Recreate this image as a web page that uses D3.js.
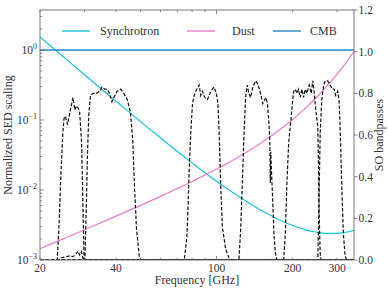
<!DOCTYPE html>
<html>
<head>
<meta charset="utf-8">
<script src="https://cdn.jsdelivr.net/npm/d3@7"></script>
<style>
  body { margin: 0; background: #fff; }
  text { font-family: "Liberation Serif", "DejaVu Serif", serif; fill: #333; }
</style>
</head>
<body>
<div id="chart"></div>
<script>
// SED curves
const sedFreq = [20, 25, 30, 40, 50, 60, 80, 100, 125, 150, 175, 200, 225, 250, 275, 300, 325, 350];
const synchrotron = [1.536, 0.774, 0.443, 0.185, 0.0948, 0.0554, 0.0244, 0.0133, 0.00766, 0.00512, 0.00383, 0.00311, 0.00270, 0.00249, 0.00240, 0.00240, 0.00249, 0.00265];
const dust = [0.00145, 0.00204, 0.00270, 0.00423, 0.00603, 0.00811, 0.0132, 0.0199, 0.0312, 0.0470, 0.0695, 0.1017, 0.148, 0.215, 0.312, 0.452, 0.657, 0.956];
const cmb = [1, 1, 1, 1, 1, 1, 1, 1, 1, 1, 1, 1, 1, 1, 1, 1, 1, 1];

// SO bandpasses (right axis)
const band27Freq = [20, 23.4, 23.8, 24.2, 24.6, 24.9, 25.2, 25.7, 26.3, 27.0, 27.5, 27.9, 28.3, 28.7, 29.2, 29.6, 29.9, 350];
const band27 = [0, 0, 0.17, 0.41, 0.60, 0.68, 0.69, 0.65, 0.71, 0.78, 0.72, 0.74, 0.73, 0.71, 0.57, 0.25, 0, 0];
const band27bFreq = [20, 23.6, 24.3, 25.5, 26.3, 27.0, 27.7, 28.3, 28.7, 29.2, 29.6, 30.1, 350];
const band27b = [0, 0, 0.011, 0.016, 0.02, 0.016, 0.027, 0.043, 0.024, 0.04, 0.008, 0, 0];
const band39Freq = [20, 30.1, 30.5, 30.8, 31.2, 31.7, 32.4, 33.4, 34.5, 35.2, 36.1, 36.9, 37.7, 38.5, 39.2, 40.4, 41.7, 42.9, 44.3, 45.6, 46.6, 47.3, 48.2, 49.5, 50.4, 350];
const band39 = [0, 0, 0.25, 0.49, 0.70, 0.79, 0.80, 0.80, 0.81, 0.83, 0.82, 0.82, 0.80, 0.76, 0.78, 0.81, 0.82, 0.80, 0.77, 0.71, 0.57, 0.36, 0.15, 0.01, 0, 0];
const band93Freq = [20, 74.5, 76.3, 77.2, 77.9, 79.1, 80.3, 81.5, 83.5, 85.3, 86.6, 87.9, 89.8, 92.0, 94.2, 96.2, 97.7, 99.8, 101.3, 102.5, 103.9, 105.4, 108.7, 112.0, 115.4, 350];
const band93 = [0, 0, 0.11, 0.27, 0.43, 0.62, 0.75, 0.79, 0.82, 0.84, 0.79, 0.81, 0.78, 0.77, 0.80, 0.82, 0.83, 0.80, 0.75, 0.59, 0.35, 0.16, 0.05, 0.01, 0, 0];
const band145Freq = [20, 122.6, 124.5, 126.3, 128.3, 130.3, 132.2, 134.2, 136.3, 139.2, 142.6, 144.7, 147.9, 150.6, 152.4, 155.2, 157.0, 159.0, 160.9, 162.4, 163.2, 163.9, 165.3, 167.3, 168.8, 170.4, 172.2, 174.6, 350];
const band145 = [0, 0, 0.14, 0.35, 0.59, 0.78, 0.84, 0.80, 0.78, 0.83, 0.86, 0.85, 0.82, 0.78, 0.75, 0.77, 0.78, 0.75, 0.67, 0.58, 0.37, 0.52, 0.40, 0.25, 0.12, 0.05, 0.01, 0, 0];
const band225Freq = [20, 184.4, 187.2, 189.9, 192.9, 196.9, 201.8, 205.0, 208.0, 211.1, 214.4, 217.6, 221.0, 224.4, 227.7, 232.7, 237.0, 240.5, 243.6, 247.1, 251.6, 253.2, 254.8, 257.2, 259.5, 350];
const band225 = [0, 0, 0.13, 0.37, 0.56, 0.67, 0.81, 0.82, 0.80, 0.82, 0.78, 0.82, 0.78, 0.82, 0.80, 0.84, 0.80, 0.86, 0.80, 0.72, 0.64, 0.45, 0.21, 0.03, 0, 0];
const band280Freq = [20, 251.6, 254, 257.2, 260.9, 264.9, 269.0, 275.4, 281.5, 287.4, 292.7, 296.2, 301.6, 305.5, 309.0, 312.8, 317.6, 322.6, 327.3, 350];
const band280 = [0, 0, 0.25, 0.61, 0.77, 0.83, 0.86, 0.86, 0.84, 0.82, 0.82, 0.79, 0.81, 0.77, 0.61, 0.37, 0.13, 0.02, 0, 0];

const xTickLabels = [20, 40, 100, 200, 300];
const xTicks = [20, 30, 40, 50, 60, 70, 80, 90, 100, 200, 300];
const yLeftMajor = [1e-3, 1e-2, 1e-1, 1];
const yRightTicks = [0, 0.2, 0.4, 0.6, 0.8, 1.0, 1.2];
const legendLabels = ["Synchrotron", "Dust", "CMB"];

var w = 388, h = 291;
var m = { left: 40, right: 34, top: 10, bottom: 31 };
var x0 = m.left, x1 = w - m.right, y0 = m.top, y1 = h - m.bottom;

var x = d3.scaleLog().domain([20, 350]).range([x0, x1]);
var yL = d3.scaleLog().domain([1e-3, Math.pow(10, (y1 - y0) / 70 - 3)]).range([y1, y0]);
var yR = d3.scaleLinear().domain([0, 1.2]).range([y1, y0]);

var svg = d3.select("#chart").append("svg").attr("width", w).attr("height", h);

svg.append("clipPath").attr("id", "clip")
    .append("rect").attr("x", x0).attr("y", y0).attr("width", x1 - x0).attr("height", y1 - y0);

var plot = svg.append("g").attr("clip-path", "url(#clip)");

var sedLine = d3.line()
    .x(function (d) { return x(d[0]); })
    .y(function (d) { return yL(d[1]); })
    .curve(d3.curveMonotoneX);

var seds = [
    { vals: synchrotron, color: "#1fc3d4", width: 1.2 },
    { vals: dust, color: "#e67fcb", width: 1.2 },
    { vals: cmb, color: "#2a84c2", width: 1.4 }
];
seds.forEach(function (s) {
    plot.append("path")
        .datum(sedFreq.map(function (f, i) { return [f, s.vals[i]]; }))
        .attr("d", sedLine)
        .attr("fill", "none")
        .attr("stroke", s.color)
        .attr("stroke-width", s.width);
});

var bandLine = d3.line()
    .x(function (d) { return x(d[0]); })
    .y(function (d) { return yR(d[1]); });

var bands = [
    [band27Freq, band27], [band27bFreq, band27b], [band39Freq, band39], [band93Freq, band93],
    [band145Freq, band145], [band225Freq, band225], [band280Freq, band280]
];
bands.forEach(function (b) {
    plot.append("path")
        .datum(b[0].map(function (f, i) { return [f, b[1][i]]; }))
        .attr("d", bandLine)
        .attr("fill", "none")
        .attr("stroke", "#111")
        .attr("stroke-width", 1.2)
        .attr("stroke-dasharray", "3.6,1.8");
});

var axisColor = "#6a6a6a";

// frame
svg.append("rect")
    .attr("x", x0).attr("y", y0).attr("width", x1 - x0).attr("height", y1 - y0)
    .attr("fill", "none").attr("stroke", axisColor).attr("stroke-width", 0.9);

// x ticks, inward on bottom and top
var tg = svg.append("g").attr("stroke", axisColor).attr("stroke-width", 0.8);
xTicks.forEach(function (t) {
    var len = (t === 100) ? 4 : 2.2;
    tg.append("line").attr("x1", x(t)).attr("x2", x(t)).attr("y1", y1).attr("y2", y1 - len);
    tg.append("line").attr("x1", x(t)).attr("x2", x(t)).attr("y1", y0).attr("y2", y0 + len);
});
svg.selectAll("text.xl").data(xTickLabels).enter().append("text")
    .attr("class", "xl")
    .attr("x", function (d) { return x(d); })
    .attr("y", 272)
    .attr("text-anchor", "middle")
    .style("font-size", "11.5px")
    .text(function (d) { return d; });

// left log ticks
var ymax = yL.domain()[1];
yLeftMajor.forEach(function (t) {
    tg.append("line").attr("x1", x0).attr("x2", x0 + 4).attr("y1", yL(t)).attr("y2", yL(t));
    for (var k = 2; k <= 9; k++) {
        var v = t * k;
        if (v <= ymax) {
            tg.append("line").attr("x1", x0).attr("x2", x0 + 2.2).attr("y1", yL(v)).attr("y2", yL(v));
        }
    }
});
yLeftMajor.forEach(function (t) {
    var e = Math.round(Math.log10(t));
    var txt = svg.append("text")
        .attr("x", x0 - 3)
        .attr("y", yL(t) + 4)
        .attr("text-anchor", "end")
        .style("font-size", "11.5px");
    txt.append("tspan").text("10");
    txt.append("tspan").attr("dy", -5).style("font-size", "8px").text(e === 0 ? "0" : "\u2212" + Math.abs(e));
});

// right linear ticks, outward
yRightTicks.forEach(function (t) {
    tg.append("line").attr("x1", x1).attr("x2", x1 + 3.5).attr("y1", yR(t)).attr("y2", yR(t));
    svg.append("text")
        .attr("x", x1 + 4.5)
        .attr("y", yR(t) + 4)
        .style("font-size", "11.5px")
        .text(t.toFixed(1));
});

// axis titles
svg.append("text")
    .attr("x", (x0 + x1) / 2).attr("y", 284)
    .attr("text-anchor", "middle")
    .style("font-size", "12px")
    .text("Frequency [GHz]");
svg.append("text")
    .attr("transform", "translate(12," + ((y0 + y1) / 2) + ") rotate(-90)")
    .attr("text-anchor", "middle")
    .style("font-size", "12px")
    .text("Normalized SED scaling");
svg.append("text")
    .attr("transform", "translate(383," + ((y0 + y1) / 2) + ") rotate(-90)")
    .attr("text-anchor", "middle")
    .style("font-size", "12px")
    .text("SO bandpasses");

// legend (no frame)
var legendX = [62, 187, 273];
var legendTextX = [100, 232, 310];
legendLabels.forEach(function (lab, i) {
    svg.append("line")
        .attr("x1", legendX[i]).attr("x2", legendX[i] + 28)
        .attr("y1", 31).attr("y2", 31)
        .attr("stroke", seds[i].color).attr("stroke-width", 1.4);
    svg.append("text")
        .attr("x", legendTextX[i]).attr("y", 35)
        .style("font-size", "12px")
        .text(lab);
});
</script>
</body>
</html>
